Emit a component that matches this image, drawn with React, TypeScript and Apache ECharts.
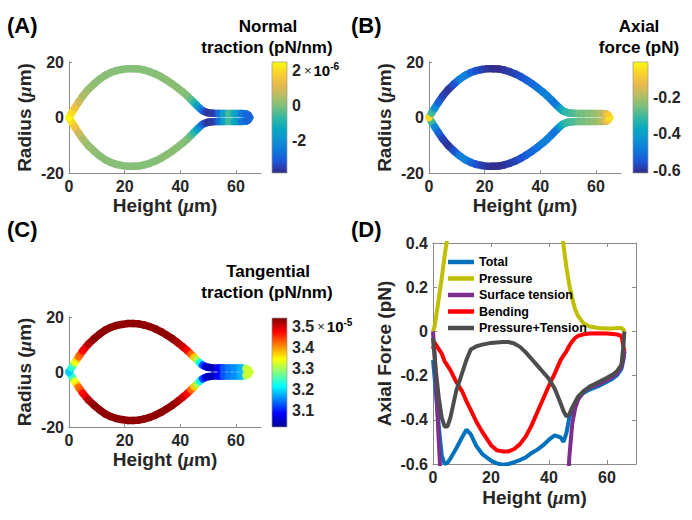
import React, { useEffect, useRef } from "react";
import * as echarts from "echarts";

// ---------- Shape profile (upper half; lower half is its mirror) ----------
const profileHeight = [0, 1, 2.2, 3.5, 5, 7, 9, 11, 13, 15, 17, 19, 21, 23, 25, 27, 29, 31, 33, 35, 37, 39, 41, 42.5, 44, 45, 46, 47, 48, 49, 50, 51.5, 54, 55.5, 57.5, 59.5, 62, 63.6, 64.4, 64.9];
const profileRadius = [0, 1.7, 3.6, 5.6, 7.8, 10.2, 12.1, 13.8, 15.2, 16.2, 16.9, 17.3, 17.6, 17.6, 17.5, 17.1, 16.5, 15.7, 14.7, 13.5, 12.2, 10.7, 9.1, 7.8, 6.3, 5.3, 4.3, 3.3, 2.5, 2.0, 1.7, 1.5, 1.45, 1.45, 1.45, 1.45, 1.45, 1.3, 0.85, 0];
// (A) normal traction, x 1e-6 pN/nm
const normalTraction = [2.5, 2.1, 1.5, 0.9, 0.5, 0.3, 0.2, 0.15, 0.15, 0.15, 0.1, 0.1, 0.1, 0.1, 0.1, 0.1, 0.1, 0.1, 0.15, 0.15, 0.15, 0.15, 0.1, 0.0, -0.3, -0.8, -1.4, -2.1, -2.8, -3.4, -3.7, -3.6, -2.7, -1.6, -0.5, -1.4, -2.5, -2.8, -2.9, -2.9];
// (B) axial force, pN
const axialForce = [-0.05, -0.3, -0.45, -0.53, -0.58, -0.6, -0.56, -0.48, -0.47, -0.52, -0.56, -0.58, -0.6, -0.61, -0.61, -0.6, -0.59, -0.58, -0.56, -0.54, -0.52, -0.5, -0.48, -0.47, -0.48, -0.5, -0.49, -0.42, -0.36, -0.32, -0.31, -0.29, -0.26, -0.25, -0.24, -0.22, -0.19, -0.14, -0.08, -0.04];
// (C) tangential traction, x 1e-5 pN/nm
const tangentialTraction = [3.19, 3.24, 3.34, 3.42, 3.47, 3.51, 3.53, 3.53, 3.53, 3.53, 3.53, 3.53, 3.53, 3.53, 3.53, 3.53, 3.53, 3.53, 3.53, 3.53, 3.53, 3.52, 3.5, 3.47, 3.42, 3.37, 3.3, 3.22, 3.13, 3.08, 3.05, 3.05, 3.09, 3.13, 3.15, 3.16, 3.18, 3.3, 3.32, 3.32];

const normalRange = [-3.83, 2.51];
const axialRange = [-0.616, -0.003];
const tangentialRange = [3.024, 3.538];
const normalTicks = [-2, 0, 2];
const axialTicks = [-0.6, -0.4, -0.2];
const tangentialTicks = [3.1, 3.2, 3.3, 3.4, 3.5];
const shapeHeightTicks = [0, 20, 40, 60];
const shapeRadiusTicks = [-20, 0, 20];

const parulaColors = ["#352A87", "#1B55D7", "#0F77DB", "#0D93D2", "#07AAC1", "#33B8A1", "#7ABF7C", "#B8BD63", "#ECB94C", "#FAD12B", "#F9FB0E"];
const jetColors = ["#00008F", "#0000FF", "#0080FF", "#00FFFF", "#80FF80", "#FFFF00", "#FF8000", "#FF0000", "#800000"];

// ---------- (D) axial force components ----------
const heights = [0, 0.5, 1, 2, 3, 4, 5, 6, 8, 10, 11.5, 13, 15, 17, 20, 22, 24, 26, 28, 30, 32, 34, 36, 38, 40, 42, 44, 45, 46, 47, 48, 49, 50, 52, 54, 57, 60, 62, 63.5, 65, 65.7, 66];
const totalForce = [-0.13, -0.2, -0.28, -0.43, -0.56, -0.6, -0.595, -0.575, -0.53, -0.48, -0.445, -0.465, -0.52, -0.555, -0.585, -0.597, -0.603, -0.6, -0.592, -0.582, -0.57, -0.55, -0.535, -0.515, -0.49, -0.47, -0.48, -0.5, -0.46, -0.39, -0.35, -0.325, -0.3, -0.278, -0.263, -0.248, -0.228, -0.213, -0.198, -0.168, -0.125, -0.09];
const pressureForce = [0, 0.02, 0.06, 0.15, 0.24, 0.34, 0.43, 0.55, 0.8, 1.05, 1.2, 1.35, 1.5, 1.6, 1.7, 1.75, 1.75, 1.75, 1.7, 1.65, 1.55, 1.45, 1.3, 1.15, 0.95, 0.75, 0.5, 0.39, 0.29, 0.21, 0.15, 0.1, 0.07, 0.035, 0.022, 0.015, 0.013, 0.013, 0.015, 0.015, 0.008, 0];
const tensionForce = [0, -0.1, -0.22, -0.5, -0.75, -1.0, -1.2, -1.3, -1.5, -1.7, -1.8, -1.9, -2.0, -2.1, -2.2, -2.25, -2.25, -2.25, -2.2, -2.15, -2.05, -1.95, -1.8, -1.65, -1.45, -1.25, -1.1, -1.0, -0.85, -0.57, -0.42, -0.35, -0.31, -0.27, -0.255, -0.24, -0.22, -0.205, -0.19, -0.16, -0.12, -0.09];
const bendingForce = [-0.08, -0.05, -0.06, -0.08, -0.1, -0.135, -0.155, -0.175, -0.228, -0.27, -0.315, -0.355, -0.41, -0.455, -0.515, -0.538, -0.543, -0.543, -0.532, -0.51, -0.475, -0.425, -0.365, -0.305, -0.245, -0.19, -0.13, -0.11, -0.09, -0.065, -0.045, -0.03, -0.02, -0.013, -0.01, -0.008, -0.01, -0.012, -0.014, -0.02, -0.07, -0.09];
const pressureTensionForce = [-0.03, -0.1, -0.18, -0.3, -0.39, -0.43, -0.43, -0.39, -0.27, -0.19, -0.13, -0.082, -0.067, -0.06, -0.052, -0.05, -0.048, -0.048, -0.055, -0.07, -0.095, -0.125, -0.155, -0.185, -0.215, -0.26, -0.325, -0.36, -0.385, -0.375, -0.345, -0.32, -0.295, -0.27, -0.25, -0.23, -0.21, -0.195, -0.18, -0.15, -0.06, 0];
const forceNames = ["Total", "Pressure", "Surface tension", "Bending", "Pressure+Tension"];
const forceColors = ["#0072BD", "#BFBF00", "#7E2F8E", "#FF0000", "#4D4D4D"];
const forceValues = [totalForce, pressureForce, tensionForce, bendingForce, pressureTensionForce];
const forceHeightTicks = [0, 20, 40, 60];
const forceTicks = [-0.6, -0.4, -0.2, 0, 0.2, 0.4];

// ---------- styling ----------
const FONT = '"Liberation Sans", Arial, Helvetica, sans-serif';
const AXIS_GRAY = "#8a8a8a";
const TEXT_DARK = "#262626";

function hexToRgb(h: string) {
  const n = parseInt(h.slice(1), 16);
  return [(n >> 16) & 255, (n >> 8) & 255, n & 255];
}
function colorAt(cmap: string[], range: number[], v: number) {
  let t = (v - range[0]) / (range[1] - range[0]);
  t = Math.max(0, Math.min(1, t));
  const pos = t * (cmap.length - 1);
  const i = Math.min(Math.floor(pos), cmap.length - 2);
  const f = pos - i;
  const a = hexToRgb(cmap[i]);
  const b = hexToRgb(cmap[i + 1]);
  const c = a.map((x, k) => Math.round(x + (b[k] - x) * f));
  return `rgb(${c[0]},${c[1]},${c[2]})`;
}

function segmentRenderer(cmap: string[], range: number[]) {
  return (params: any, api: any) => {
    const i = params.dataIndexInside;
    if (i >= params.dataInsideLength - 1) return null;
    const a = api.coord([api.value(0, i), api.value(1, i)]);
    const b = api.coord([api.value(0, i + 1), api.value(1, i + 1)]);
    const c1 = colorAt(cmap, range, api.value(2, i));
    const c2 = colorAt(cmap, range, api.value(2, i + 1));
    return {
      type: "line",
      shape: { x1: a[0], y1: a[1], x2: b[0], y2: b[1] },
      style: {
        stroke: new echarts.graphic.LinearGradient(a[0], a[1], b[0], b[1], [
          { offset: 0, color: c1 },
          { offset: 1, color: c2 },
        ], true),
        lineWidth: 7.5,
        lineCap: "round",
        fill: "none",
      },
    };
  };
}

function colorbarRenderer(cmap: string[]) {
  return (_params: any, api: any) => {
    const tl = api.coord([0, api.value(2)]);
    const br = api.coord([1, api.value(1)]);
    const stops = cmap.map((c, k) => ({ offset: k / (cmap.length - 1), color: c }));
    return {
      type: "rect",
      shape: { x: tl[0], y: tl[1], width: br[0] - tl[0], height: br[1] - tl[1] },
      style: { fill: new echarts.graphic.LinearGradient(0, 1, 0, 0, stops), stroke: "#9a9a9a", lineWidth: 0.7 },
    };
  };
}

const tickLabel = { color: TEXT_DARK, fontSize: 16, fontWeight: "bold", fontFamily: FONT };
const nameStyle = {
  color: TEXT_DARK,
  fontSize: 19,
  fontWeight: "bold",
  fontFamily: FONT,
  rich: { mu: { color: TEXT_DARK, fontSize: 19, fontStyle: "italic", fontFamily: '"Liberation Serif", serif' } },
};

function shapeXAxis(gridIndex: number) {
  return {
    type: "value", gridIndex, min: 0, max: 69, position: "bottom",
    axisLine: { show: true, onZero: false, lineStyle: { color: AXIS_GRAY, width: 1 } },
    axisTick: { show: true, inside: true, length: 3, customValues: shapeHeightTicks, lineStyle: { color: AXIS_GRAY } },
    axisLabel: { ...tickLabel, margin: 5, customValues: shapeHeightTicks },
    splitLine: { show: false },
    name: "Height ({mu|μ}m)", nameLocation: "middle", nameGap: 23, nameTextStyle: nameStyle,
  };
}
function shapeYAxis(gridIndex: number) {
  return {
    type: "value", gridIndex, min: -20, max: 20, position: "left",
    axisLine: { show: true, onZero: false, lineStyle: { color: AXIS_GRAY, width: 1 } },
    axisTick: { show: true, inside: true, length: 3, customValues: shapeRadiusTicks, lineStyle: { color: AXIS_GRAY } },
    axisLabel: { ...tickLabel, margin: 5, customValues: shapeRadiusTicks },
    splitLine: { show: false },
    name: "Radius ({mu|μ}m)", nameLocation: "middle", nameGap: 35, nameTextStyle: nameStyle,
  };
}
const expRich = {
  n: { fontSize: 16, fontWeight: "bold", color: TEXT_DARK, fontFamily: FONT, lineHeight: 18 },
  x: { fontSize: 13, fontWeight: "normal", color: TEXT_DARK, fontFamily: FONT, lineHeight: 18, padding: [0, 2, 0, 3] },
  e: { fontSize: 15, fontWeight: "bold", color: "#000", fontFamily: FONT, lineHeight: 18 },
  s: { fontSize: 10, fontWeight: "bold", color: "#000", fontFamily: FONT, lineHeight: 10, verticalAlign: "top" },
};
function cbarYAxis(gridIndex: number, range: number[], ticks: number[], expTick: number | null, exp: string) {
  return {
    type: "value", gridIndex, min: range[0], max: range[1], position: "right",
    axisLine: { show: false }, axisTick: { show: false }, splitLine: { show: false },
    axisLabel: {
      ...tickLabel, margin: 5, customValues: ticks,
      formatter: (v: number) => (expTick !== null && Math.abs(v - expTick) < 1e-9 ? `{n|${v}}{x|×}{e|10}{s|${exp}}` : String(v)),
      rich: expRich,
    },
  };
}
function cbarXAxis(gridIndex: number) {
  return { type: "value", gridIndex, min: 0, max: 1, show: false };
}

function profileSeries(axisIndex: number, values: number[], cmap: string[], range: number[], sign: number) {
  return {
    type: "custom", xAxisIndex: axisIndex, yAxisIndex: axisIndex, silent: true, clip: false,
    data: profileHeight.map((z, i) => [z, sign * profileRadius[i], values[i]]),
    renderItem: segmentRenderer(cmap, range),
  };
}
function colorbarSeries(axisIndex: number, cmap: string[], range: number[]) {
  return {
    type: "custom", xAxisIndex: axisIndex, yAxisIndex: axisIndex, silent: true,
    data: [[0, range[0], range[1]]],
    renderItem: colorbarRenderer(cmap),
  };
}

function textEl(text: string, x: number, y: number, size: number, align = "left") {
  return {
    type: "text", x, y, silent: true,
    style: { text, fill: "#000", font: `bold ${size}px ${FONT}`, textAlign: align, textVerticalAlign: "middle" },
  };
}

function buildOption() {
  const gridBase = { containLabel: false, outerBoundsMode: "none" };
  const grids = [
    { left: 69, top: 62, width: 192, height: 111 },
    { left: 272, top: 62, width: 15, height: 111 },
    { left: 429, top: 62, width: 192, height: 111 },
    { left: 633, top: 62, width: 15, height: 111 },
    { left: 69, top: 317, width: 192, height: 110 },
    { left: 272, top: 318, width: 15, height: 109 },
    { left: 433, top: 243, width: 203, height: 221 },
  ].map((g) => ({ ...gridBase, ...g }));

  const xAxes: any[] = [
    shapeXAxis(0), cbarXAxis(1), shapeXAxis(2), cbarXAxis(3), shapeXAxis(4), cbarXAxis(5),
    {
      type: "value", gridIndex: 6, min: 0, max: 70, position: "bottom",
      axisLine: { show: true, onZero: false, lineStyle: { color: AXIS_GRAY } },
      axisTick: { show: true, inside: true, length: 4, customValues: forceHeightTicks, lineStyle: { color: AXIS_GRAY } },
      axisLabel: { ...tickLabel, margin: 5, customValues: forceHeightTicks },
      splitLine: { show: false },
      name: "Height ({mu|μ}m)", nameLocation: "middle", nameGap: 24, nameTextStyle: nameStyle,
    },
    {
      type: "value", gridIndex: 6, min: 0, max: 70, position: "top",
      axisLine: { show: true, onZero: false, lineStyle: { color: AXIS_GRAY } },
      axisTick: { show: true, inside: true, length: 4, customValues: forceHeightTicks, lineStyle: { color: AXIS_GRAY } },
      axisLabel: { show: false }, splitLine: { show: false },
    },
  ];
  const yAxes: any[] = [
    shapeYAxis(0),
    cbarYAxis(1, normalRange, normalTicks, 2, "-6"),
    shapeYAxis(2),
    cbarYAxis(3, axialRange, axialTicks, null, ""),
    shapeYAxis(4),
    cbarYAxis(5, tangentialRange, tangentialTicks, 3.5, "-5"),
    {
      type: "value", gridIndex: 6, min: -0.6, max: 0.4, position: "left",
      axisLine: { show: true, onZero: false, lineStyle: { color: AXIS_GRAY } },
      axisTick: { show: true, inside: true, length: 4, customValues: forceTicks, lineStyle: { color: AXIS_GRAY } },
      axisLabel: { ...tickLabel, margin: 5, customValues: forceTicks, formatter: (v: number) => String(Math.round(v * 10) / 10) },
      splitLine: { show: false },
      name: "Axial Force (pN)", nameLocation: "middle", nameGap: 39, nameTextStyle: nameStyle,
    },
    {
      type: "value", gridIndex: 6, min: -0.6, max: 0.4, position: "right",
      axisLine: { show: true, onZero: false, lineStyle: { color: AXIS_GRAY } },
      axisTick: { show: true, inside: true, length: 4, customValues: forceTicks, lineStyle: { color: AXIS_GRAY } },
      axisLabel: { show: false }, splitLine: { show: false },
    },
  ];

  const series: any[] = [
    profileSeries(0, normalTraction, parulaColors, normalRange, -1),
    profileSeries(0, normalTraction, parulaColors, normalRange, 1),
    colorbarSeries(1, parulaColors, normalRange),
    profileSeries(2, axialForce, parulaColors, axialRange, -1),
    profileSeries(2, axialForce, parulaColors, axialRange, 1),
    colorbarSeries(3, parulaColors, axialRange),
    profileSeries(4, tangentialTraction, jetColors, tangentialRange, -1),
    profileSeries(4, tangentialTraction, jetColors, tangentialRange, 1),
    colorbarSeries(5, jetColors, tangentialRange),
    ...forceNames.map((name, k) => ({
      type: "line", name, xAxisIndex: 6, yAxisIndex: 6, clip: true, showSymbol: false, symbol: "none",
      data: heights.map((h, i) => [h, forceValues[k][i]]),
      lineStyle: { color: forceColors[k], width: 4 },
      itemStyle: { color: forceColors[k] },
      silent: true,
    })),
  ];

  return {
    animation: false,
    backgroundColor: "#fff",
    grid: grids,
    xAxis: xAxes,
    yAxis: yAxes,
    series,
    legend: {
      orient: "vertical", left: 448, top: 255, icon: "rect", itemWidth: 26, itemHeight: 4.5, itemGap: 2.5,
      padding: 0, selectedMode: false,
      textStyle: { fontSize: 12.5, fontWeight: "bold", color: "#000", fontFamily: FONT, lineHeight: 14 },
      data: forceNames,
    },
    graphic: [
      textEl("(A)", 7, 25, 22),
      textEl("(B)", 351, 25, 22),
      textEl("(C)", 7, 229, 22),
      textEl("(D)", 351, 229, 22),
      textEl("Normal", 268, 26, 17, "center"),
      textEl("traction (pN/nm)", 267, 47, 17, "center"),
      textEl("Axial", 639, 26, 17, "center"),
      textEl("force (pN)", 639, 47, 17, "center"),
      textEl("Tangential", 268, 271, 17, "center"),
      textEl("traction (pN/nm)", 267, 292, 17, "center"),
    ],
  };
}

export default function App() {
  const ref = useRef<HTMLDivElement>(null);
  useEffect(() => {
    if (!ref.current) return;
    const chart = echarts.init(ref.current, null, { renderer: "svg" });
    chart.setOption(buildOption() as any);
    return () => chart.dispose();
  }, []);
  return (
    <div
      ref={ref}
      style={{ position: "fixed", left: 0, top: 0, width: 692, height: 520, background: "#fff" }}
    />
  );
}
